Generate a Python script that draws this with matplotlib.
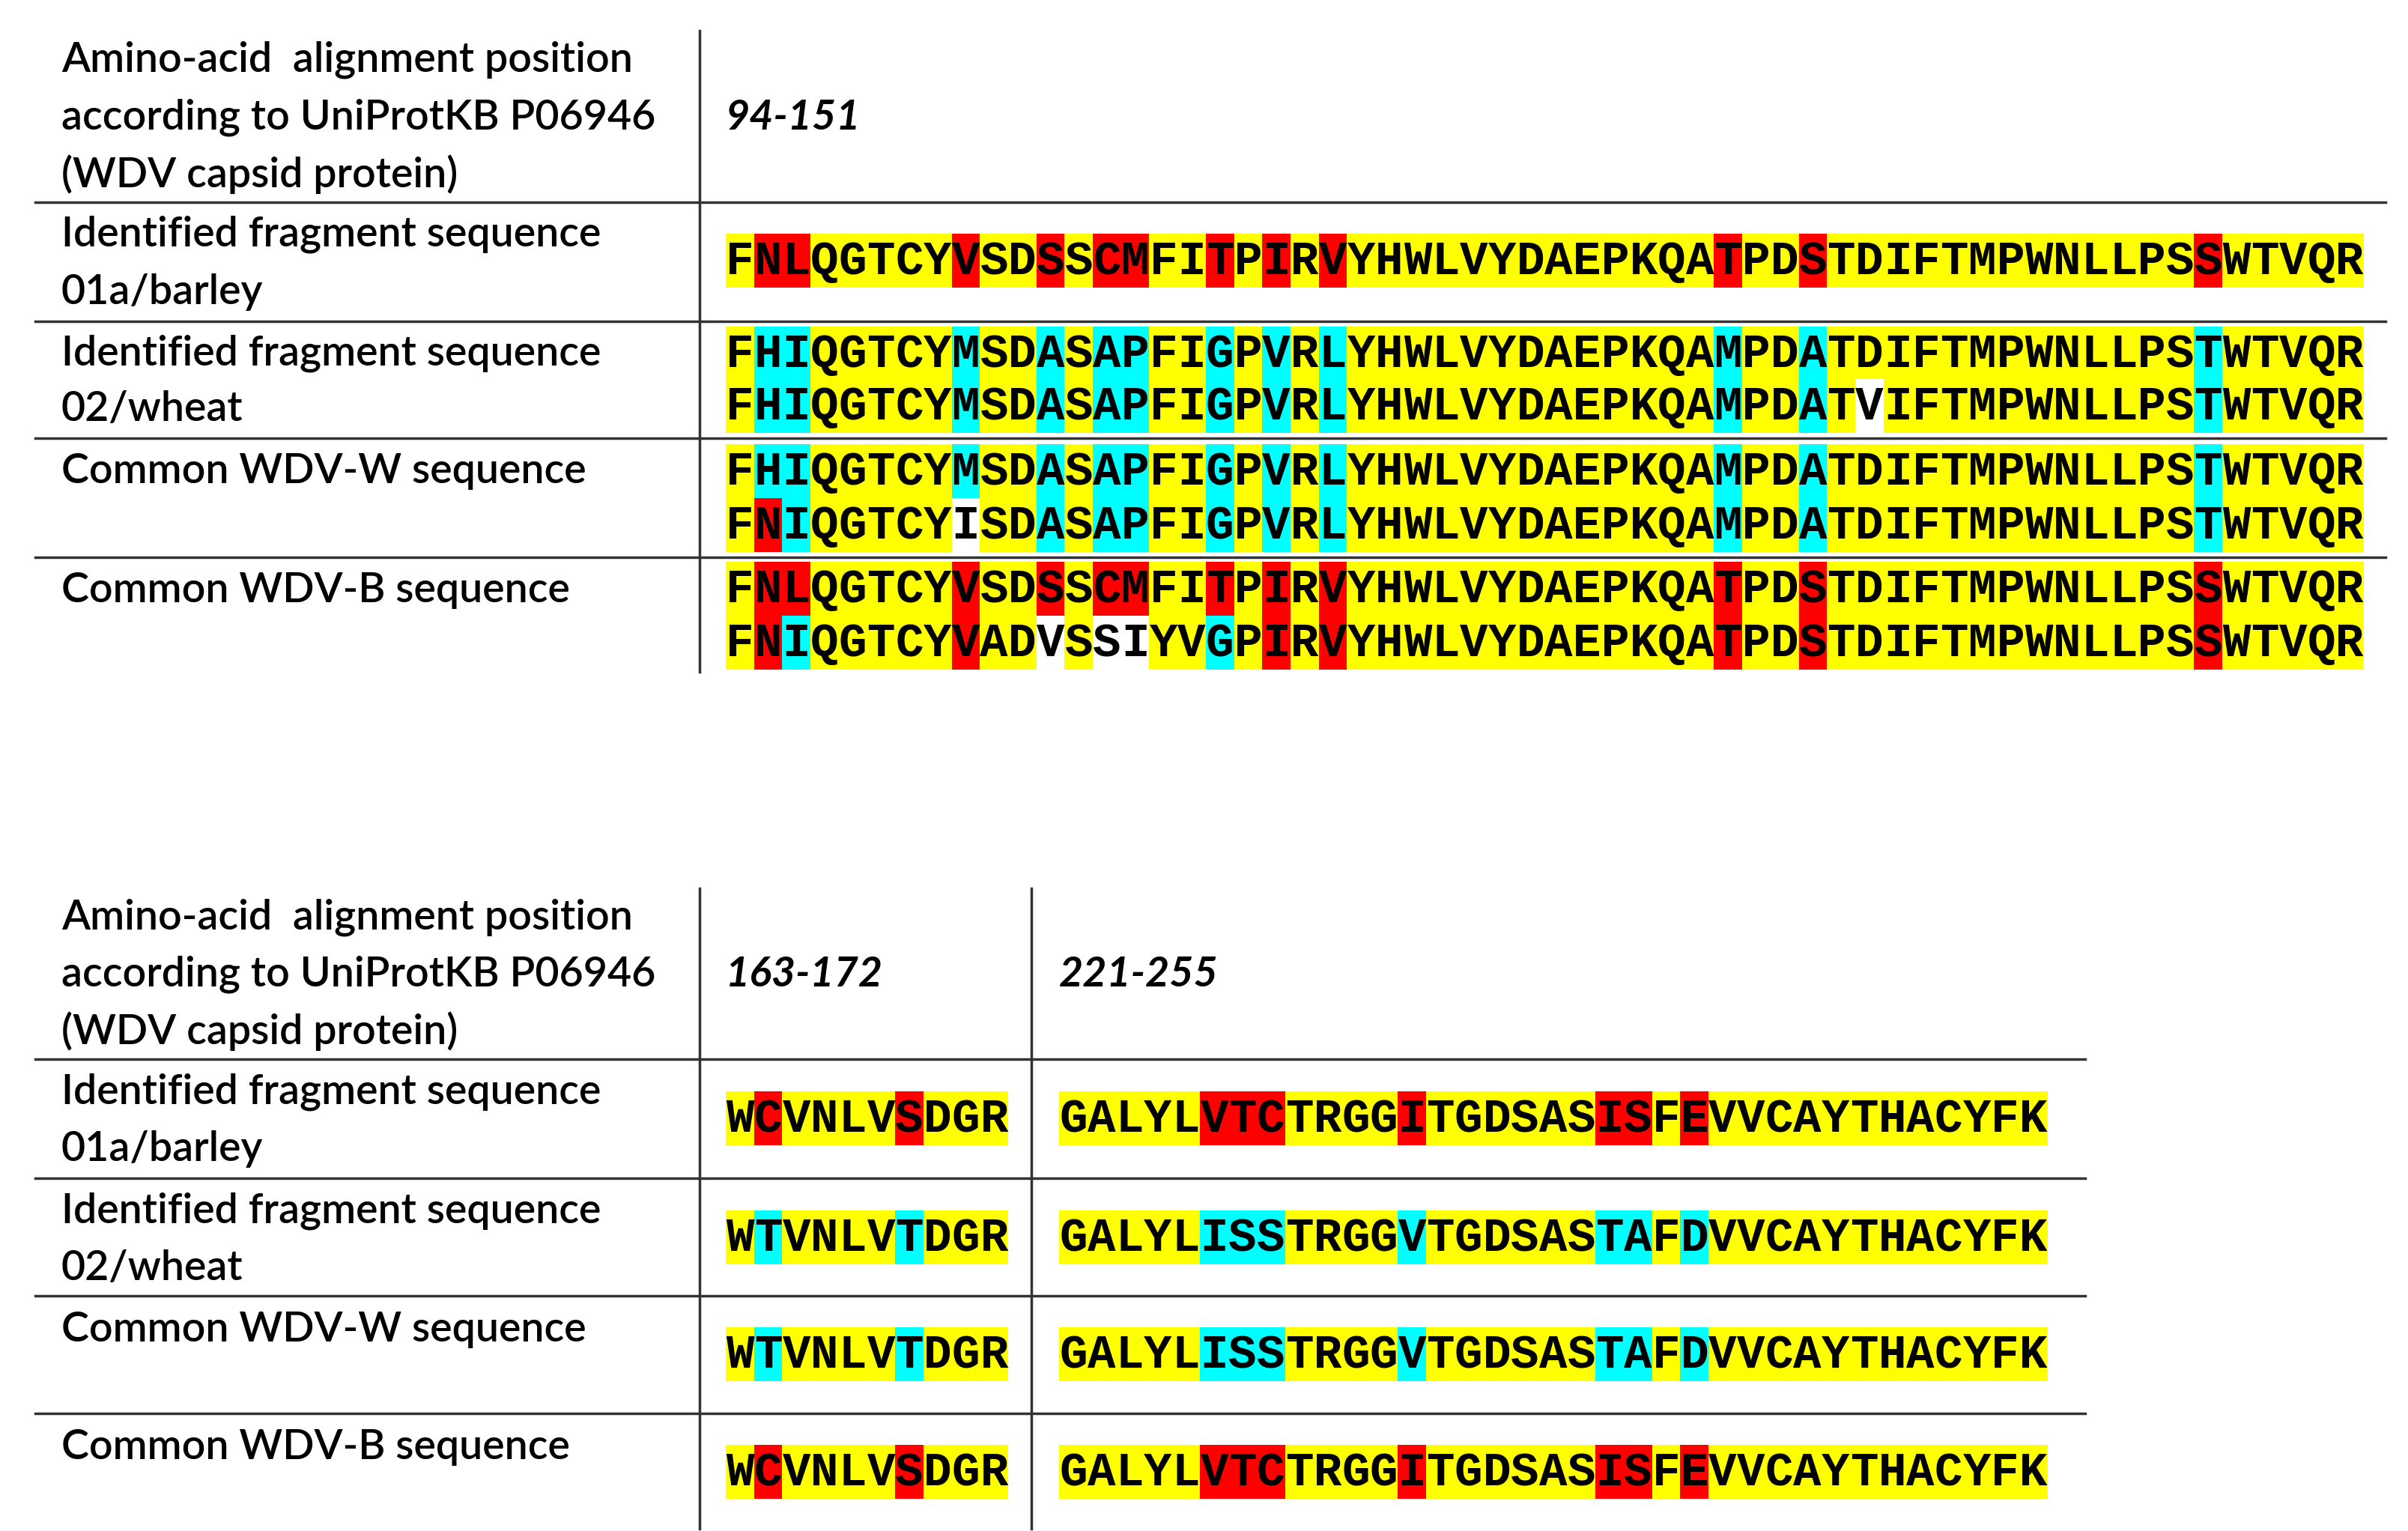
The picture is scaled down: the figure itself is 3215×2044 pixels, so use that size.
import matplotlib
matplotlib.use("Agg")
import matplotlib.pyplot as plt
from matplotlib.patches import Rectangle

W, H = 3216, 2044
COLORS = {"y": "#FFFF00", "r": "#FF0000", "c": "#00FFFF", "w": "#FFFFFF"}

# ---- data: top table (positions 94-151) ----
top_range = "94-151"
top_labels = [
    ["Identified fragment sequence", "01a/barley"],
    ["Identified fragment sequence", "02/wheat"],
    ["Common WDV-W sequence"],
    ["Common WDV-B sequence"],
]
top_seqs = [
    ["FNLQGTCYVSDSSCMFITPIRVYHWLVYDAEPKQATPDSTDIFTMPWNLLPSSWTVQR"],
    ["FHIQGTCYMSDASAPFIGPVRLYHWLVYDAEPKQAMPDATDIFTMPWNLLPSTWTVQR",
     "FHIQGTCYMSDASAPFIGPVRLYHWLVYDAEPKQAMPDATVIFTMPWNLLPSTWTVQR"],
    ["FHIQGTCYMSDASAPFIGPVRLYHWLVYDAEPKQAMPDATDIFTMPWNLLPSTWTVQR",
     "FNIQGTCYISDASAPFIGPVRLYHWLVYDAEPKQAMPDATDIFTMPWNLLPSTWTVQR"],
    ["FNLQGTCYVSDSSCMFITPIRVYHWLVYDAEPKQATPDSTDIFTMPWNLLPSSWTVQR",
     "FNIQGTCYVADVSSIYVGPIRVYHWLVYDAEPKQATPDSTDIFTMPWNLLPSSWTVQR"],
]
barley_top = "yrryyyyyryyryrryyryryr" + "y" * 13 + "ryyr" + "y" * 13 + "r" + "y" * 5
wheat_top = barley_top.replace("r", "c")
wheat_top2 = wheat_top[:40] + "w" + wheat_top[41:]
w_top2 = "yrcyyyyywyycyccyycycyc" + wheat_top[22:]
b_top2 = "yrcyyyyyryywywwyycyryr" + barley_top[22:]
top_cols = [[barley_top], [wheat_top, wheat_top2], [wheat_top, w_top2], [barley_top, b_top2]]

# ---- data: bottom table (positions 163-172 and 221-255) ----
bot_ranges = ["163-172", "221-255"]
frag1 = ["WCVNLVSDGR", "WTVNLVTDGR", "WTVNLVTDGR", "WCVNLVSDGR"]
frag2 = ["GALYLVTCTRGGITGDSASISFEVVCAYTHACYFK",
         "GALYLISSTRGGVTGDSASTAFDVVCAYTHACYFK",
         "GALYLISSTRGGVTGDSASTAFDVVCAYTHACYFK",
         "GALYLVTCTRGGITGDSASISFEVVCAYTHACYFK"]
f1_b = "yryyyyryyy"
f2_b = "yyyyyrrryyyyryyyyyyrryryyyyyyyyyyyy"
frag1_cols = [f1_b, f1_b.replace("r", "c"), f1_b.replace("r", "c"), f1_b]
frag2_cols = [f2_b, f2_b.replace("r", "c"), f2_b.replace("r", "c"), f2_b]

header = ["Amino-acid  alignment position", "according to UniProtKB P06946", "(WDV capsid protein)"]

fig = plt.figure(figsize=(W / 100, H / 100), dpi=100)
ax = fig.add_axes([0, 0, 1, 1])
ax.set_xlim(0, W)
ax.set_ylim(H, 0)
ax.axis("off")

LBL = dict(family=["Lato", "DejaVu Sans"], fontsize=40, weight="semibold", va="center", ha="left")
SEQ = dict(family=["Liberation Mono", "DejaVu Sans Mono"], fontsize=45, weight="bold", va="center", ha="center")
CW, BH = 37.7, 72


def seq_row(x0, yc, seq, cols):
    for i, (ch, cc) in enumerate(zip(seq, cols)):
        ax.add_patch(Rectangle((x0 + i * CW, yc - BH / 2), CW + 0.5, BH, color=COLORS[cc], lw=0))
        ax.text(x0 + (i + 0.5) * CW, yc + 2, ch, **SEQ)


def labels(x, ys, lines):
    for y, t in zip(ys, lines):
        ax.text(x, y, t, **LBL)


# top table
ax.plot([934, 934], [41, 897], color="#333", lw=2.5)
for y in [270, 429, 585, 744]:
    ax.plot([47, 3185], [y, y], color="#333", lw=2.5)
labels(82, [80, 157, 233], header)
ax.text(969, 157, top_range, family=["Lato"], fontsize=40, weight="bold", style="italic", va="center")
lab_y = [[313, 390], [472, 546], [629], [788]]
seq_y = [[348], [472, 542], [629, 701], [786, 858]]
for lab, ly, seqs, cols, sy in zip(top_labels, lab_y, top_seqs, top_cols, seq_y):
    labels(82, ly, lab)
    for s, c, y in zip(seqs, cols, sy):
        seq_row(969, y, s, c)

# bottom table
for x in [934, 1377]:
    ax.plot([x, x], [1186, 2041], color="#333", lw=2.5)
for y in [1414, 1573, 1730, 1887]:
    ax.plot([47, 2784], [y, y], color="#333", lw=2.5)
labels(82, [1225, 1301, 1377], header)
for x, r in zip([969, 1414], bot_ranges):
    ax.text(x, 1301, r, family=["Lato"], fontsize=40, weight="bold", style="italic", va="center")
bot_lab_y = [[1458, 1534], [1617, 1693], [1775], [1932]]
bot_seq_y = [1493, 1652, 1808, 1965]
for lab, ly, s1, c1, s2, c2, y in zip(top_labels, bot_lab_y, frag1, frag1_cols, frag2, frag2_cols, bot_seq_y):
    labels(82, ly, lab)
    seq_row(969, y, s1, c1)
    seq_row(1414, y, s2, c2)

fig.savefig("out.png", dpi=100, facecolor="white")
